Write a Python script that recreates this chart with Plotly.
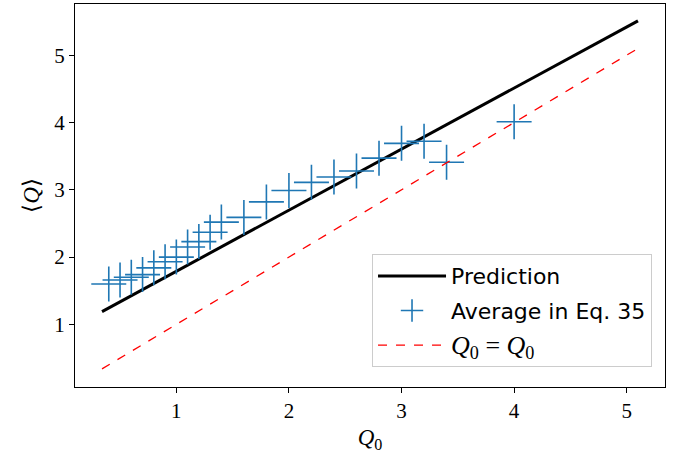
import plotly.graph_objects as go

# Data
q0_avg = [0.4, 0.5, 0.6, 0.7, 0.8, 0.9, 1.0, 1.1, 1.2, 1.3, 1.4, 1.6, 1.8, 2.0, 2.2, 2.4, 2.6, 2.8, 3.0, 3.2, 3.4, 4.0]
q_avg = [1.60, 1.66, 1.70, 1.74, 1.84, 1.93, 2.00, 2.15, 2.23, 2.37, 2.52, 2.59, 2.82, 2.99, 3.11, 3.19, 3.28, 3.47, 3.69, 3.72, 3.41, 4.01]
pred_x = [0.34, 5.10]
pred_y = [1.19, 5.51]
ident_x = [0.34, 5.10]
ident_y = [0.34, 5.10]
tick_vals = [1, 2, 3, 4, 5]

serif = "Liberation Serif"
sans = "DejaVu Sans"

fig = go.Figure()
fig.add_trace(go.Scatter(x=pred_x, y=pred_y, mode="lines", name="Prediction", legendgroup="a",
                         line=dict(color="black", width=3)))
fig.add_trace(go.Scatter(x=q0_avg, y=q_avg, mode="markers", name="Average in Eq. 35", legendgroup="b",
                         marker=dict(symbol="cross-thin", size=25, color="#1f77b4",
                                     line=dict(color="#1f77b4", width=1.6))))
fig.add_trace(go.Scatter(x=ident_x, y=ident_y, mode="lines", legendgroup="c",
                         name=f'<span style="font-family:{serif};font-size:26px"><i>Q</i><sub>0</sub> = <i>Q</i><sub>0</sub></span>',
                         line=dict(color="red", width=1.3, dash="dash")))

axis_common = dict(showgrid=False, zeroline=False, showline=True, linecolor="black", linewidth=1,
                   mirror=True, ticks="outside", ticklen=5, tickcolor="black",
                   tickfont=dict(family=serif, size=21, color="black"),
                   tickvals=tick_vals)

fig.update_layout(
    width=678, height=455,
    margin=dict(l=75, r=13, t=4, b=68),
    plot_bgcolor="white", paper_bgcolor="white",
    xaxis=dict(range=[0.10, 5.34], title=dict(text="<i>Q</i><sub>0</sub>",
               font=dict(family=serif, size=23, color="black"), standoff=6), **axis_common),
    yaxis=dict(range=[0.07, 5.76], title=dict(text="⟨<i>Q</i>⟩",
               font=dict(family=serif, size=23, color="black"), standoff=8), **axis_common),
    legend=dict(x=0.978, y=0.052, xanchor="right", yanchor="bottom",
                bgcolor="rgba(255,255,255,0.8)", bordercolor="#cccccc", borderwidth=1,
                font=dict(family=sans, size=22, color="black"), itemwidth=68,
                tracegroupgap=3),
    showlegend=True,
)

fig.write_html("out.html")
